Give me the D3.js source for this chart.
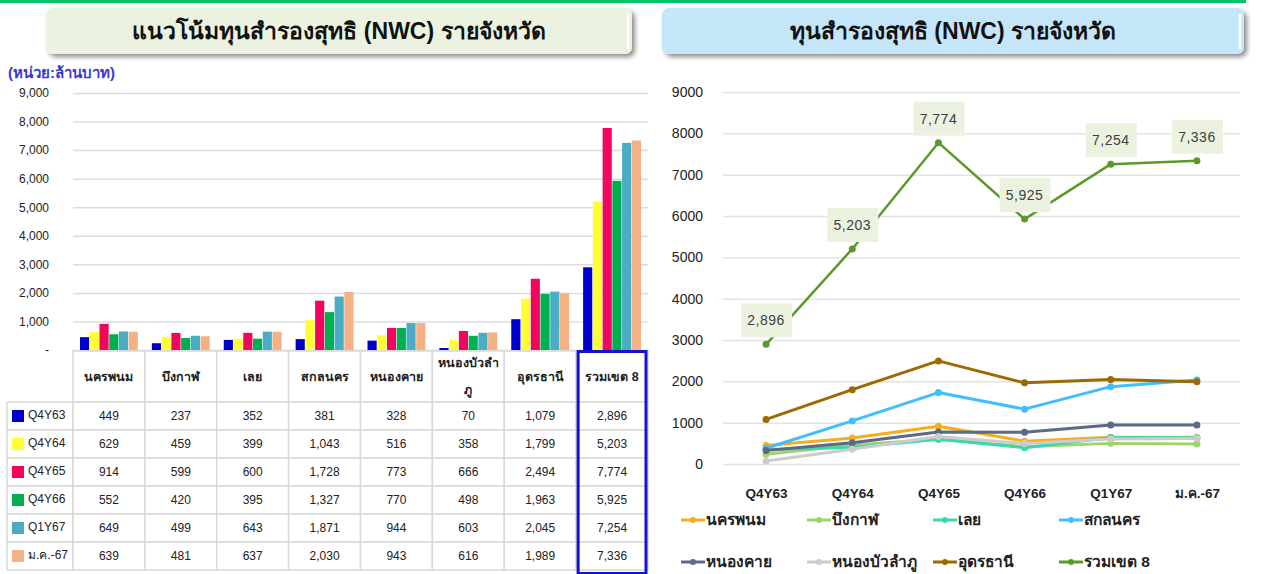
<!DOCTYPE html>
<html>
<head>
<meta charset="utf-8">
<script src="https://cdn.jsdelivr.net/npm/d3@7"></script>
<style>
  body { margin: 0; background: #fff; }
  svg { display: block; font-family: "Liberation Sans", Arial, "Noto Sans", sans-serif; }
</style>
</head>
<body>
<svg id="chart"></svg>
<script>
// provinces (table columns / line series)
const provinces = ['นครพนม', 'บึงกาฬ', 'เลย', 'สกลนคร', 'หนองคาย', 'หนองบัวลำภู', 'อุดรธานี', 'รวมเขต 8'];
const periods = ['Q4Y63', 'Q4Y64', 'Q4Y65', 'Q4Y66', 'Q1Y67', 'ม.ค.-67'];

// values per period, in province order (ล้านบาท)
const q4y63 = [449, 237, 352, 381, 328, 70, 1079, 2896];
const q4y64 = [629, 459, 399, 1043, 516, 358, 1799, 5203];
const q4y65 = [914, 599, 600, 1728, 773, 666, 2494, 7774];
const q4y66 = [552, 420, 395, 1327, 770, 498, 1963, 5925];
const q1y67 = [649, 499, 643, 1871, 944, 603, 2045, 7254];
const jan67 = [639, 481, 637, 2030, 943, 616, 1989, 7336];

const barTicks = [0, 1000, 2000, 3000, 4000, 5000, 6000, 7000, 8000, 9000];
const lineTicks = [0, 1000, 2000, 3000, 4000, 5000, 6000, 7000, 8000, 9000];

const periodColors = ['#0000cc', '#ffff33', '#f0055f', '#00b050', '#4bacc6', '#f4b183'];
const provinceColors = ['#f8ad1c', '#9fd46a', '#3dd6b0', '#3fbfff', '#5b6b85', '#cccccc', '#9c6a00', '#5b9a2a'];

const rows = [q4y63, q4y64, q4y65, q4y66, q1y67, jan67];
const fmt = d3.format(',');

const svg = d3.select('#chart')
  .attr('width', 1265)
  .attr('height', 574);

const defs = svg.append('defs');
const shadow = defs.append('filter')
  .attr('id', 'shadow')
  .attr('x', '-10%').attr('y', '-30%')
  .attr('width', '120%').attr('height', '180%');
shadow.append('feDropShadow')
  .attr('dx', 3).attr('dy', 3)
  .attr('stdDeviation', 2.5)
  .attr('flood-color', '#000')
  .attr('flood-opacity', 0.45);

// top green strip
svg.append('rect')
  .attr('x', 0).attr('y', 0)
  .attr('width', 1246).attr('height', 3)
  .attr('fill', '#00c46a');

// title boxes
const titles = [
  { x: 46, w: 586, fill: '#ebf3e0', text: 'แนวโน้มทุนสำรองสุทธิ (NWC) รายจังหวัด' },
  { x: 662, w: 582, fill: '#c5e6f8', text: 'ทุนสำรองสุทธิ (NWC) รายจังหวัด' }
];
titles.forEach(t => {
  const g = svg.append('g');
  g.append('rect')
    .attr('x', t.x).attr('y', 8)
    .attr('width', t.w).attr('height', 46)
    .attr('rx', 7)
    .attr('fill', t.fill)
    .attr('filter', 'url(#shadow)');
  g.append('line')
    .attr('x1', t.x + t.w - 4).attr('x2', t.x + t.w - 4)
    .attr('y1', 14).attr('y2', 49)
    .attr('stroke', '#fff').attr('stroke-width', 2.5);
  g.append('text')
    .attr('x', t.x + t.w / 2).attr('y', 39)
    .attr('text-anchor', 'middle')
    .attr('font-size', 23)
    .attr('font-weight', 'bold')
    .attr('fill', '#111')
    .text(t.text);
});

// ---------- left: grouped bars ----------
const left = { x0: 73, x1: 648, top: 93, base: 350 };

const yBar = d3.scaleLinear().domain([0, 9000]).range([left.base, left.top]);
const xCol = d3.scaleBand().domain(provinces).range([left.x0, left.x1]);
const xSub = d3.scaleBand().domain(periods).range([7, xCol.bandwidth() - 7]).paddingInner(0.06);

svg.append('text')
  .attr('x', 8).attr('y', 78)
  .attr('font-size', 15)
  .attr('font-weight', 'bold')
  .attr('fill', '#3a3ad0')
  .text('(หน่วย:ล้านบาท)');

const yAxisL = svg.append('g')
  .attr('transform', `translate(${left.x0},0)`)
  .call(d3.axisLeft(yBar).tickValues(barTicks)
    .tickSize(-(left.x1 - left.x0))
    .tickPadding(24)
    .tickFormat(d => d === 0 ? '-' : fmt(d)));
yAxisL.select('.domain').remove();
yAxisL.selectAll('.tick line')
  .attr('stroke', '#dcdcdc').attr('stroke-width', 1.5);
yAxisL.selectAll('.tick text')
  .attr('font-size', 12).attr('fill', '#222')
  .attr('font-family', '"Liberation Sans", Arial, sans-serif');

const barData = [];
provinces.forEach((p, i) => {
  periods.forEach((per, j) => {
    barData.push({ province: p, period: per, value: rows[j][i], j });
  });
});

svg.append('g').selectAll('rect')
  .data(barData)
  .join('rect')
  .attr('x', d => xCol(d.province) + xSub(d.period))
  .attr('y', d => yBar(d.value))
  .attr('width', xSub.bandwidth())
  .attr('height', d => yBar(0) - yBar(d.value))
  .attr('fill', d => periodColors[d.j]);

// ---------- data table ----------
const table = { top: 351, headH: 51, rowH: 28, left: 7 };
const tg = svg.append('g');
const grid = '#d9d9d9';

// header cells
provinces.forEach((p, i) => {
  const x = xCol(p);
  tg.append('rect')
    .attr('x', x).attr('y', table.top)
    .attr('width', xCol.bandwidth()).attr('height', table.headH)
    .attr('fill', '#fff').attr('stroke', grid).attr('stroke-width', 1.5);
  const lines = p === 'หนองบัวลำภู' ? ['หนองบัวลำ', 'ภู'] : [p];
  lines.forEach((ln, k) => {
    tg.append('text')
      .attr('x', x + xCol.bandwidth() / 2)
      .attr('y', table.top + table.headH / 2 + 4 + (k - (lines.length - 1) / 2) * 27)
      .attr('text-anchor', 'middle')
      .attr('font-size', 12.5)
      .attr('font-weight', 'bold')
      .attr('fill', '#222')
      .text(ln);
  });
});

// body rows
periods.forEach((per, j) => {
  const y = table.top + table.headH + j * table.rowH;
  tg.append('rect')
    .attr('x', table.left).attr('y', y)
    .attr('width', left.x0 - table.left).attr('height', table.rowH)
    .attr('fill', '#fff').attr('stroke', grid).attr('stroke-width', 1.5);
  tg.append('rect')
    .attr('x', 12).attr('y', y + 8)
    .attr('width', 12).attr('height', 12)
    .attr('fill', periodColors[j]);
  tg.append('text')
    .attr('x', 28).attr('y', y + 17)
    .attr('font-size', 12).attr('fill', '#222')
    .text(per);
  provinces.forEach((p, i) => {
    tg.append('rect')
      .attr('x', xCol(p)).attr('y', y)
      .attr('width', xCol.bandwidth()).attr('height', table.rowH)
      .attr('fill', '#fff').attr('stroke', grid).attr('stroke-width', 1.5);
    tg.append('text')
      .attr('x', xCol(p) + xCol.bandwidth() / 2)
      .attr('y', y + 18)
      .attr('text-anchor', 'middle')
      .attr('font-size', 12).attr('fill', '#222')
      .text(fmt(rows[j][i]));
  });
});

// highlight total column
tg.append('rect')
  .attr('x', xCol('รวมเขต 8') + 2).attr('y', table.top + 0.5)
  .attr('width', xCol.bandwidth() - 4)
  .attr('height', table.headH + periods.length * table.rowH + 3)
  .attr('fill', 'none')
  .attr('stroke', '#1212d0').attr('stroke-width', 3);

// ---------- right: lines ----------
const right = { x0: 723, x1: 1240, top: 92, base: 464 };
const yLine = d3.scaleLinear().domain([0, 9000]).range([right.base, right.top]);
const xPt = d3.scalePoint().domain(periods).range([right.x0, right.x1]).padding(0.5);

const yAxisR = svg.append('g')
  .attr('transform', `translate(${right.x0},0)`)
  .call(d3.axisLeft(yLine).tickValues(lineTicks)
    .tickSize(-(right.x1 - right.x0))
    .tickPadding(20)
    .tickFormat(d3.format('d')));
yAxisR.select('.domain').remove();
yAxisR.selectAll('.tick line')
  .attr('stroke', '#e3e3e3').attr('stroke-width', 1.5);
yAxisR.selectAll('.tick text')
  .attr('font-size', 14).attr('fill', '#222')
  .attr('font-family', '"Liberation Sans", Arial, sans-serif');

const xAxisR = svg.append('g')
  .attr('transform', `translate(0,${right.base})`)
  .call(d3.axisBottom(xPt).tickSize(0).tickPadding(24));
xAxisR.select('.domain').remove();
xAxisR.selectAll('.tick text')
  .attr('font-size', 13.5).attr('font-weight', 'bold').attr('fill', '#222');

const series = provinces.map((p, i) => ({
  name: p,
  color: provinceColors[i],
  total: i === provinces.length - 1,
  values: periods.map((per, j) => ({ period: per, value: rows[j][i] }))
}));

const line = d3.line()
  .x(d => xPt(d.period))
  .y(d => yLine(d.value));

const sg = svg.append('g').selectAll('g')
  .data(series)
  .join('g');

sg.append('path')
  .attr('d', d => line(d.values))
  .attr('fill', 'none')
  .attr('stroke', d => d.color)
  .attr('stroke-width', d => d.total ? 2.5 : 3)
  .attr('stroke-linejoin', 'round');

sg.selectAll('circle')
  .data(d => d.values.map(v => ({ ...v, color: d.color })))
  .join('circle')
  .attr('cx', d => xPt(d.period))
  .attr('cy', d => yLine(d.value))
  .attr('r', 3.5)
  .attr('fill', d => d.color);

// value labels on the total line
const totalSeries = series[series.length - 1];
const lbl = svg.append('g').selectAll('g')
  .data(totalSeries.values)
  .join('g')
  .attr('transform', d => `translate(${xPt(d.period)},${yLine(d.value) - 24})`);
lbl.append('rect')
  .attr('x', -25).attr('y', -17)
  .attr('width', 51).attr('height', 34)
  .attr('fill', '#ebf3e0');
lbl.append('text')
  .attr('y', 5)
  .attr('text-anchor', 'middle')
  .attr('font-size', 14)
  .attr('letter-spacing', 0.5)
  .attr('fill', '#404040')
  .text(d => fmt(d.value));

// legend
const legX = [681, 807, 933, 1059];
const legY = [520, 562];
const leg = svg.append('g').selectAll('g')
  .data(series)
  .join('g')
  .attr('transform', (d, i) => `translate(${legX[i % 4]},${legY[Math.floor(i / 4)]})`);
leg.append('line')
  .attr('x1', 0).attr('x2', 24)
  .attr('stroke', d => d.color).attr('stroke-width', 3);
leg.append('circle')
  .attr('cx', 12).attr('r', 3)
  .attr('fill', d => d.color);
leg.append('text')
  .attr('x', 25).attr('y', 5)
  .attr('font-size', 15.5).attr('font-weight', 'bold')
  .attr('fill', '#222')
  .text(d => d.name);
</script>
</body>
</html>
